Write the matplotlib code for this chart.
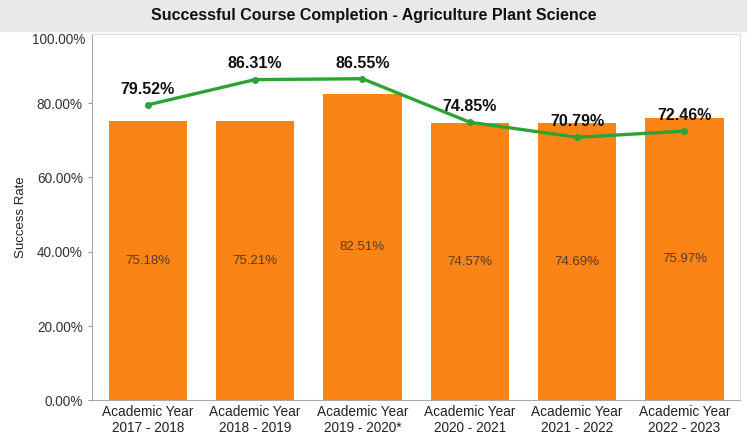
import matplotlib
matplotlib.use("Agg")
import matplotlib.pyplot as plt
from matplotlib.patches import Rectangle

years = ["Academic Year\n2017 - 2018", "Academic Year\n2018 - 2019",
         "Academic Year\n2019 - 2020*", "Academic Year\n2020 - 2021",
         "Academic Year\n2021 - 2022", "Academic Year\n2022 - 2023"]
bar_rates = [75.18, 75.21, 82.51, 74.57, 74.69, 75.97]
line_rates = [79.52, 86.31, 86.55, 74.85, 70.79, 72.46]

ORANGE = "#FB8416"
GREEN = "#2DA337"
plt.rcParams.update({"font.family": "Liberation Sans", "font.size": 9.5})

fig = plt.figure(figsize=(7.47, 4.40), dpi=100)
fig.patch.set_facecolor("white")
# grey title band
fig.patches.append(Rectangle((0, 0.93), 1, 0.07, transform=fig.transFigure,
                             color="#E9E9E9", zorder=0))
fig.text(0.5, 0.965, "Successful Course Completion - Agriculture Plant Science",
         ha="center", va="center", fontsize=11.5, fontweight="bold", color="#111111")

ax = fig.add_axes([0.123, 0.09, 0.868, 0.832])
x = range(len(years))
ax.bar(x, bar_rates, width=0.73, color=ORANGE, zorder=2)
for xi, v in zip(x, bar_rates):
    ax.text(xi, v / 2, f"{v:.2f}%", ha="center", va="center",
            fontsize=9.5, color="#5A3A20", zorder=4)

ax.plot(x, line_rates, color=GREEN, lw=2.4, marker="o", ms=4, zorder=3)
for xi, v in zip(x, line_rates):
    ax.text(xi, v + 2.2, f"{v:.2f}%", ha="center", va="bottom",
            fontsize=11.5, fontweight="bold", color="#111111", zorder=5)

ax.set_ylim(0, 98.5)
ax.set_xlim(-0.52, 5.52)
ax.set_yticks([0, 20, 40, 60, 80])
ax.set_yticklabels(["0.00%", "20.00%", "40.00%", "60.00%", "80.00%"])
ax.text(-0.01, 0.985, "100.00%", transform=ax.transAxes, ha="right", va="center",
        fontsize=9.8, color="#333333")
ax.set_xticks(list(x))
ax.set_xticklabels(years, linespacing=1.25)
ax.set_ylabel("Success Rate", fontsize=9.5, color="#222222", labelpad=7)
ax.tick_params(axis="y", length=3, colors="#999999", labelcolor="#333333",
               labelsize=9.8)
ax.tick_params(axis="x", length=0, labelcolor="#222222", pad=3, labelsize=9.8)
for s in ["left", "bottom"]:
    ax.spines[s].set_color("#AAAAAA")
ax.spines["top"].set_color("#DDDDDD")
ax.spines["right"].set_color("#DDDDDD")

fig.savefig("out.png", dpi=100)
